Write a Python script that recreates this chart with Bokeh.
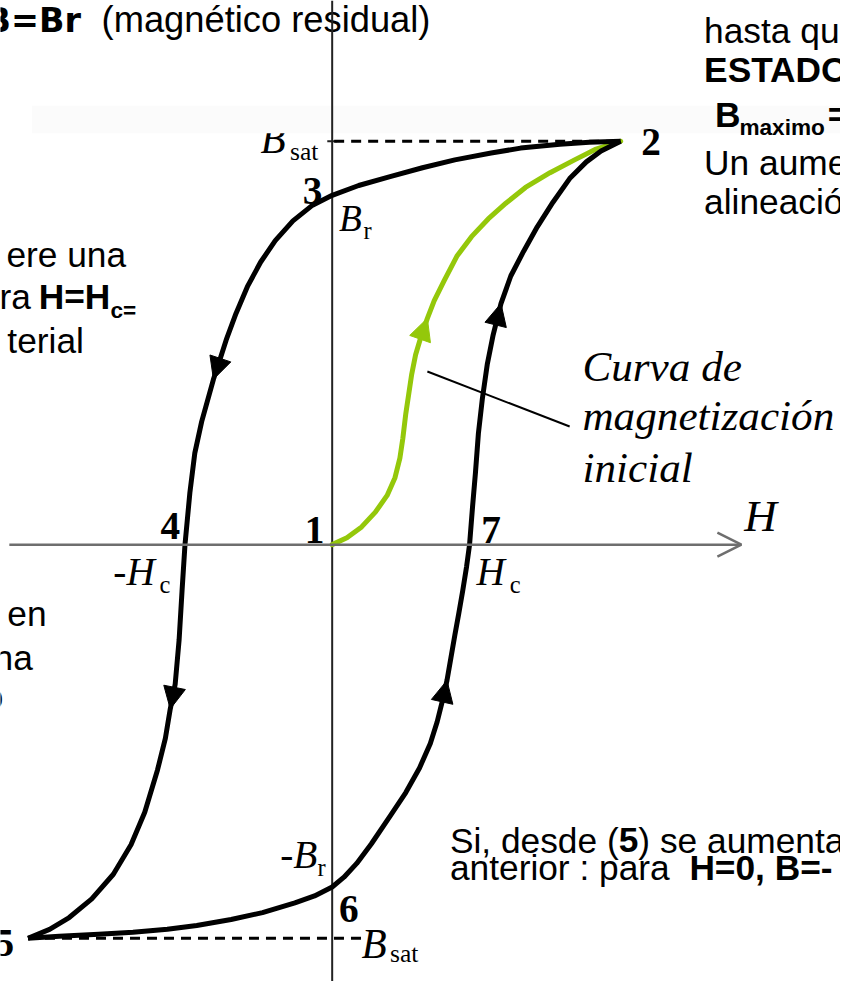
from bokeh.plotting import figure
from bokeh.models import Range1d, Arrow, NormalHead, OpenHead
from bokeh.core.properties import value
from bokeh.embed import file_html
from bokeh.resources import INLINE

# ---------------- data (H, B in diagram units, origin at point 1) ----------------
# descending branch 2 -> 3 -> 4 -> 5
upper_H = [294, 262, 232, 192, 162, 125, 92, 59, 27, 0, -20, -40, -58, -73, -86, -98, -108, -116,
           -121, -133, -140, -145, -150, -153, -156, -160, -165, -170, -178, -191, -205, -223,
           -245, -268, -288, -310]
upper_B = [410, 409, 407, 403, 398, 391, 383, 374, 365, 355, 345, 329, 309, 287, 263, 235, 208, 183,
           168, 125, 93, 53, 0, -47, -97, -142, -167, -197, -229, -272, -305, -335, -360, -379,
           -391, -400]
# ascending branch 5 -> 6 -> 7 -> 2
lower_H = [-310, -278, -238, -203, -168, -138, -103, -71, -38, -18, 0, 12, 25, 40, 59, 75, 89, 100,
           107, 112, 117, 121, 125, 129, 133, 137, 140, 143, 146, 149, 153, 158, 164, 172, 182, 195,
           209, 225, 242, 259, 274, 294]
lower_B = [-400, -398, -396, -394, -391, -387, -381, -374, -364, -357, -348, -338, -324, -304, -276,
           -252, -227, -202, -180, -160, -138, -115, -92, -70, -47, -22, 0, 38, 73, 113, 148, 183,
           213, 245, 273, 298, 323, 348, 372, 389, 400, 410]
# initial magnetization curve 1 -> 2
initial_H = [0, 15, 30, 44, 56, 64, 69, 72, 75, 78, 81, 85, 91, 97, 104, 114, 127, 142, 159, 177,
             197, 222, 247, 269, 294]
initial_B = [0, 7, 18, 33, 50, 68, 88, 108, 133, 153, 173, 193, 213, 230, 248, 268, 293, 313, 331,
             347, 363, 378, 391, 402, 410]

B_sat = 410
B_sat_neg = -400
H_c = 140
H_c_neg = -150
B_r = 355
B_r_neg = -348
H_axis_end = 417

# arrowheads: (curve, tail index, tip index)
arrow_marks = [("upper", 17, 18), ("upper", 25, 26), ("lower", 19, 20), ("lower", 32, 33),
               ("initial", 12, 13)]

# ---------------- figure (data units = reference pixels) ----------------
W, H = 840, 981
p = figure(width=W, height=H, x_range=Range1d(-338, 518), y_range=Range1d(-444, 553),
           output_backend="svg", toolbar_location=None, x_axis_type=None, y_axis_type=None,
           min_border=0, outline_line_color=None, background_fill_color="white",
           border_fill_color="white")
p.xgrid.visible = False
p.ygrid.visible = False

SANS = "Liberation Sans"
SERIF = "Liberation Serif"
K = W / 856.0  # reference px -> screen px


def txt(x, base, s, size, font=SANS, style="normal", align="left", color="black"):
    # base = baseline position; text is drawn centred vertically on its middle line
    p.text(x=[x], y=[base + 0.345 * size], text=[s], text_font=value(font),
           text_font_size=value(f"{size * K:.1f}px"), text_font_style=style,
           text_align=align, text_baseline="middle", text_color=color)


# top-left sentence fragment
txt(-256, 521, "B=Br", 34, font="DejaVu Sans", style="bold", align="right")
txt(-235, 521, "(magnético residual)", 37)

# B_sat label (top), partly hidden by the faint band
txt(-73, 398, "B", 42, font=SERIF, style="italic")
txt(-43, 391, "sat", 26, font=SERIF)

# faint band
p.quad(left=-306, right=518, top=446, bottom=418, fill_color="#fbfbfb", line_color=None)

# axes
p.segment(x0=[0], y0=[-444], x1=[0], y1=[553], line_color="#222222", line_width=2)
p.add_layout(Arrow(end=OpenHead(size=24, line_width=2.5, line_color="#6e6e6e"),
                   x_start=-329, y_start=0, x_end=H_axis_end, y_end=0,
                   line_color="#6e6e6e", line_width=2.5))
p.segment(x0=[-5], y0=[B_sat], x1=[5], y1=[B_sat], line_color="#222222", line_width=2)

# saturation dashed lines
p.line(x=[2, upper_H[0]], y=[B_sat, B_sat], line_color="black", line_width=3, line_dash="10 7")
p.line(x=[lower_H[0], 30], y=[B_sat_neg, B_sat_neg], line_color="black", line_width=3,
       line_dash="10 7")

# curves
p.line(x=initial_H, y=initial_B, line_color="#94c80a", line_width=5, line_cap="round",
       line_join="round")
p.line(x=upper_H, y=upper_B, line_color="black", line_width=5, line_join="round")
p.line(x=lower_H, y=lower_B, line_color="black", line_width=5, line_join="round")

curves = {"upper": (upper_H, upper_B, "black"), "lower": (lower_H, lower_B, "black"),
          "initial": (initial_H, initial_B, "#94c80a")}
for name, i0, i1 in arrow_marks:
    hx, by, col = curves[name]
    p.add_layout(Arrow(end=NormalHead(size=22, fill_color=col, line_color=col, line_width=1),
                       x_start=hx[i0], y_start=by[i0], x_end=hx[i1], y_end=by[i1],
                       line_color=None))

# pointer line for the initial curve label
p.line(x=[97, 242], y=[176, 120], line_color="black", line_width=2)

# point numbers
txt(upper_H[0] + 21, B_sat - 15, "2", 40, font=SERIF, style="bold")
txt(-10, B_r - 9, "3", 40, font=SERIF, style="bold", align="right")
txt(H_c_neg - 5, 5, "4", 40, font=SERIF, style="bold", align="right")
txt(-8, 1, "1", 40, font=SERIF, style="bold", align="right")
txt(H_c + 12, 1, "7", 40, font=SERIF, style="bold")
txt(7, -384, "6", 40, font=SERIF, style="bold")
txt(-324, -419, "5", 40, font=SERIF, style="bold", align="right")

# axis quantity labels
txt(7, 318, "B", 38, font=SERIF, style="italic")
txt(32, 311, "r", 25, font=SERIF)
txt(-223, -42, "-H", 40, font=SERIF, style="italic")
txt(-176, -49, "c", 25, font=SERIF)
txt(147, -42, "H", 40, font=SERIF, style="italic")
txt(181, -49, "c", 25, font=SERIF)
txt(420, 13, "H", 46, font=SERIF, style="italic")
txt(-53, -329, "-B", 40, font=SERIF, style="italic")
txt(-15, -337, "r", 25, font=SERIF)
txt(30, -420, "B", 42, font=SERIF, style="italic")
txt(59, -425, "sat", 26, font=SERIF)

# initial curve caption
txt(255, 166, "Curva de", 44, font=SERIF, style="italic")
txt(255, 116, "magnetización", 44, font=SERIF, style="italic")
txt(255, 63, "inicial", 44, font=SERIF, style="italic")

# right column fragments
txt(379, 510, "hasta qu", 36)
txt(379, 470, "ESTADO", 36, style="bold")
txt(390, 425, "B", 36, style="bold")
txt(415, 416, "maximo", 23, style="bold")
txt(505, 425, "=", 36, style="bold")
txt(379, 376, "Un aume", 36)
txt(379, 336, "alineació", 36)

# left column fragments
txt(-332, 282, "ere una", 36)
txt(-307, 240, "ra", 36, align="right")
txt(-299, 240, "H=H", 36, style="bold")
txt(-226, 230, "c=", 23, style="bold")
txt(-331, 195, "terial", 36)
txt(-331, -82, "en", 36)
txt(-305, -127, "na", 36, align="right")
txt(-335, -167, "o", 36, align="right")

# bottom-right sentence
txt(120, -313, "Si, desde (", 36)
txt(292, -313, "5", 36, style="bold")
txt(312, -313, ") se aumenta", 36)
txt(120, -341, "anterior :  para ", 36)
txt(364, -341, "H=0, B=-", 36, style="bold")

open("out.html", "w").write(file_html(p, INLINE))
